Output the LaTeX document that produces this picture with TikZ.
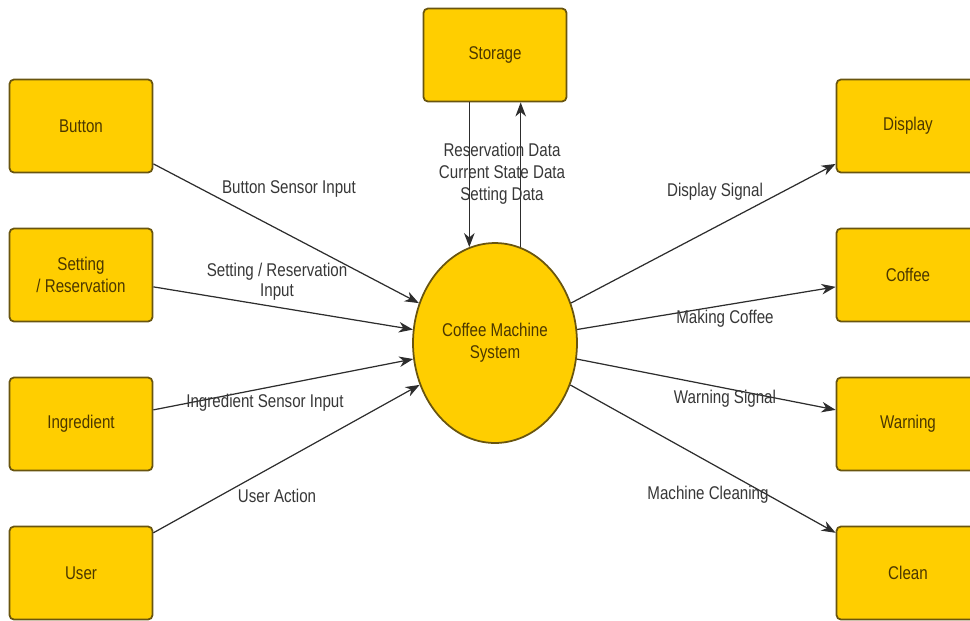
\documentclass[tikz,border=0pt]{standalone}
\usepackage{fontspec}
\setmainfont{Liberation Sans}[FakeStretch=0.82]
\usetikzlibrary{arrows.meta,positioning,shapes.geometric}

\definecolor{boxfill}{RGB}{255,206,0}
\definecolor{boxline}{RGB}{105,85,15}
\definecolor{boxtext}{RGB}{75,55,0}
\definecolor{linegray}{RGB}{45,45,45}
\definecolor{labelgray}{RGB}{55,55,55}

\begin{document}
\begin{tikzpicture}[x=0.02cm,y=-0.02cm,->,>={Stealth[length=8pt,width=6pt,inset=2.5pt]},
  line width=0.7pt,
  ext node/.style={rectangle,rounded corners=2.5pt,draw=boxline,fill=boxfill,line width=1pt,
    minimum width=2.86cm,minimum height=1.86cm,text=boxtext,align=center,
    font=\fontsize{10.5}{12.5}\selectfont},
  sys node/.style={ellipse,draw=boxline,fill=boxfill,line width=1pt,inner sep=0pt,
    minimum width=3.28cm,minimum height=4cm,text=boxtext,align=center,
    font=\fontsize{10.5}{12.5}\selectfont},
  flow label/.style={text=labelgray,align=center,font=\fontsize{10.5}{12.5}\selectfont}]

  \clip (0,0) rectangle (970,620);

  % external entities
  \node[ext node] (btn) at (81,126) {Button};
  \node[ext node] (set) at (81,275) {Setting\\/ Reservation};
  \node[ext node] (ing) at (81,424) {Ingredient};
  \node[ext node] (usr) at (81,573) {User};
  \node[ext node] (sto) at (495,55) {Storage};
  \node[ext node] (disp) at (908,126) {Display};
  \node[ext node] (cof) at (908,275) {Coffee};
  \node[ext node] (warn) at (908,424) {Warning};
  \node[ext node] (cln) at (908,573) {Clean};

  % process
  \node[sys node] (sys) at (495,343) {Coffee Machine\\System};

  \path[linegray]
    (btn) edge (sys)
    (set) edge (sys)
    (ing) edge (sys)
    (usr) edge (sys)
    (sys) edge (disp)
    (sys) edge (cof)
    (sys) edge (warn)
    (sys) edge (cln)
    (sys.105 |- sto.south) edge (sys.105)
    (sys.75) edge (sys.75 |- sto.south);

  % flow labels
  \node[flow label] (lbtn) at (289,189) {Button Sensor Input};
  \node[flow label] (lset) at (277,282) {Setting / Reservation\\[-1pt]Input};
  \node[flow label] (ling) at (265,403) {Ingredient Sensor Input};
  \node[flow label] (lusr) at (277,496) {User Action};
  \node[flow label] (lsto) at (502,174) {Reservation Data\\Current State Data\\Setting Data};
  \node[flow label] (ldisp) at (715,192) {Display Signal};
  \node[flow label] (lcof) at (725,319) {Making Coffee};
  \node[flow label] (lwarn) at (725,399) {Warning Signal};
  \node[flow label] (lcln) at (708,495) {Machine Cleaning};
\end{tikzpicture}
\end{document}
